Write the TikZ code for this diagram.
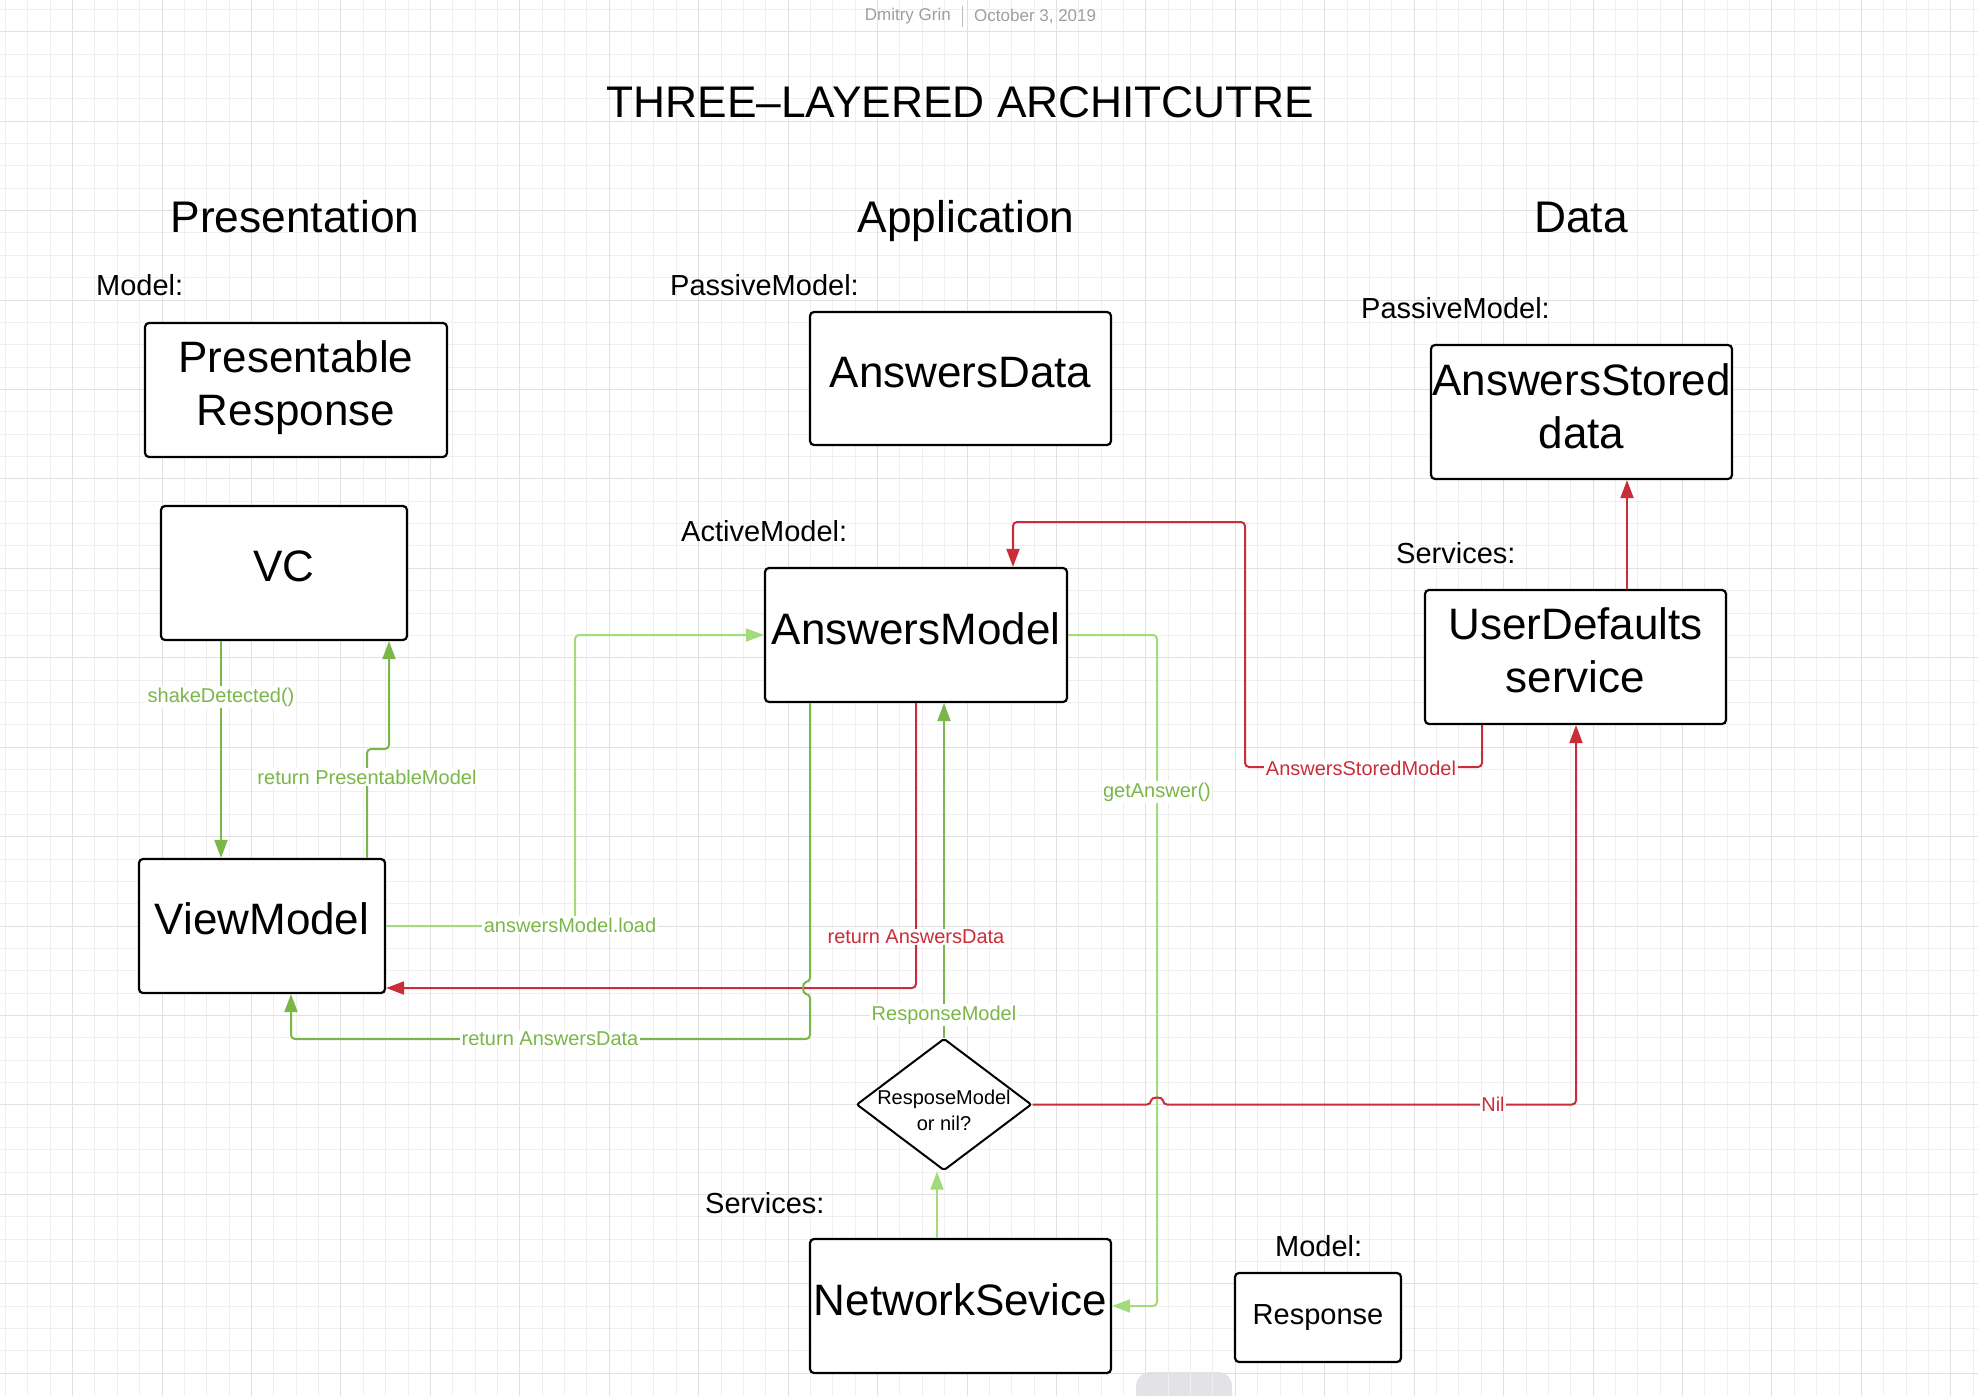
\documentclass[tikz,border=0pt]{standalone}
\usepackage{fontspec}
\setmainfont{Liberation Sans}
\usetikzlibrary{arrows.meta,shapes.geometric}
\definecolor{dgreen}{HTML}{7AB648}
\definecolor{lgreen}{HTML}{A3DB7B}
\definecolor{lred}{HTML}{C92D39}
\definecolor{gminorc}{HTML}{EFEFEF}
\definecolor{gmajorc}{HTML}{E0E0E0}
\definecolor{handlec}{HTML}{E3E3E5}
\definecolor{hdrc}{HTML}{9E9E9E}
\begin{document}
\begin{tikzpicture}[x=1pt,y=-1pt,
  box/.style={draw=black, line width=2.2pt, rounded corners=4pt, fill=white, inner sep=0pt},
  big/.style={font=\fontsize{44}{53}\selectfont, align=center, inner sep=0pt},
  lbl/.style={font=\fontsize{29}{34}\selectfont, anchor=west, inner sep=0pt},
  head/.style={font=\fontsize{44.3}{50}\selectfont, inner sep=0pt},
  hdr/.style={font=\fontsize{17}{20}\selectfont, text=hdrc, inner sep=0pt},
  conn/.style={line width=2pt, rounded corners=4pt},
  tipx/.style={-{Triangle[length=18pt,width=13pt]}},
  gd/.style={conn, draw=dgreen, tipx},
  gl/.style={conn, draw=lgreen, tipx},
  rd/.style={conn, draw=lred, tipx},
  clab/.style={font=\fontsize{20}{24}\selectfont, fill=white, inner sep=1.5pt},
  gminor/.style={draw=gminorc, line width=1pt},
  gmajor/.style={draw=gmajorc, line width=1pt}]
\fill[white] (0,0) rectangle (1978,1396);
\useasboundingbox (0,0) rectangle (1978,1396);
\begin{scope}
\clip (0,0) rectangle (1978,1396);
\fill[handlec, rounded corners=14pt] (1136,1372) rectangle (1232,1425);
\foreach \i in {0,...,88} \draw[gminor] ({5.52+\i*22.36},0) -- ({5.52+\i*22.36},1396);
\foreach \i in {0,...,61} \draw[gminor] (0,{9.34+\i*22.36}) -- (1978,{9.34+\i*22.36});
\foreach \i in {0,...,21} \draw[gmajor] ({72.6+\i*89.44},0) -- ({72.6+\i*89.44},1396);
\foreach \i in {0,...,15} \draw[gmajor] (0,{31.7+\i*89.44}) -- (1978,{31.7+\i*89.44});
\end{scope}

% header and title
\node[hdr, anchor=east] (h1) at (951,16) {Dmitry Grin};
\draw[hdrc!70, line width=1pt] (962.5,6) -- (962.5,27);
\node[hdr, anchor=west] (h2) at (974,16) {October 3, 2019};
\node[head] (title) at (960.5,102) {THREE–LAYERED ARCHITCUTRE};
\node[head] (hp) at (295,217) {Presentation};
\node[head] (ha) at (966,221) {Application};
\node[head] (hd) at (1581,217) {Data};

% labels
\node[lbl] (l1) at (96,285) {Model:};
\node[lbl] (l2) at (670,285) {PassiveModel:};
\node[lbl] (l3) at (1361,308) {PassiveModel:};
\node[lbl] (l4) at (681,531) {ActiveModel:};
\node[lbl] (l5) at (1396,553) {Services:};
\node[lbl] (l6) at (705,1203) {Services:};
\node[lbl] (l7) at (1275,1246) {Model:};

% boxes
\node[box, minimum width=302, minimum height=134] (pr) at (296,390) {};
\node[big] (tpr) at (296,388) {Presentable\\Response};
\node[box, minimum width=246, minimum height=134] (vc) at (284,573) {};
\node[big] (tvc) at (284,566) {VC};
\node[box, minimum width=246, minimum height=134] (vm) at (262,926) {};
\node[big] (tvm) at (262,919) {ViewModel};
\node[box, minimum width=301, minimum height=133] (ad) at (960.5,378.5) {};
\node[big] (tad) at (960.5,373) {AnswersData};
\node[box, minimum width=302, minimum height=134] (am) at (916,635) {};
\node[big] (tam) at (916,629) {AnswersModel};
\node[box, minimum width=301, minimum height=134] (asd) at (1581.5,412) {};
\node[big] (tasd) at (1581.5,406) {AnswersStored\\data};
\node[box, minimum width=301, minimum height=134] (uds) at (1575.5,657) {};
\node[big] (tuds) at (1575.5,650) {UserDefaults\\service};
\node[box, minimum width=301, minimum height=134] (ns) at (960.5,1306) {};
\node[big] (tns) at (960.5,1300) {NetworkSevice};
\node[box, minimum width=166, minimum height=89] (resp) at (1318,1317.5) {};
\node[font=\fontsize{29}{34}\selectfont, inner sep=0pt] (tresp) at (1318,1317.5) {Response};
\node[draw=black, diamond, line width=2pt, rounded corners=2pt, fill=white, inner sep=0pt,
      minimum width=175, minimum height=132] (dm) at (944,1104.5) {};
\node[font=\fontsize{20}{25.7}\selectfont, align=center, inner sep=0pt] (tdm) at (944,1110) {ResposeModel\\or nil?};

% helper coordinates
\coordinate (cShake) at (221,0);
\coordinate (cRet1) at (367,749);
\coordinate (cRet2) at (389,749);
\coordinate (cLoad) at (575,0);
\coordinate (cRedY) at (0,988);
\coordinate (cGX) at (810,0);
\coordinate (cGY) at (0,1039);
\coordinate (cGX2) at (291,0);
\coordinate (cNS) at (937,0);
\coordinate (cGA) at (1157,0);
\coordinate (cNilX) at (1576,0);
\coordinate (cASx1) at (1482,0);
\coordinate (cASy1) at (0,767);
\coordinate (cASx2) at (1245,0);
\coordinate (cASy2) at (0,522);
\coordinate (cASx3) at (1013,0);
\coordinate (cUp) at (1627,0);

% connectors
\draw[gd] (cShake |- vc.south) -- (cShake |- vm.north);
\draw[gd] (cRet1 |- vm.north) -- (cRet1) -- (cRet2) -- (cRet2 |- vc.south);
\draw[gl] (vm.east) -- (cLoad |- vm.east) -- (cLoad |- am.west) -- (am.west);
\draw[rd] (am.south) -- (am.south |- cRedY) -- (vm.east |- cRedY);
\draw[gd] (cGX |- am.south) -- (810,982) .. controls (802,982) and (802,994) .. (810,994)
   -- (cGX |- cGY) -- (cGX2 |- cGY) -- (cGX2 |- vm.south);
\draw[gl] (cNS |- ns.north) -- (cNS |- dm.south);
\draw[gd] (dm.north) -- (dm.north |- am.south);
\draw[gl] (am.east) -- (cGA |- am.east) -- (cGA |- ns.east) -- (ns.east);
\draw[rd] (dm.east) -- (1151,1104.5) .. controls (1151,1096.5) and (1163,1096.5) .. (1163,1104.5)
   -- (cNilX |- dm.east) -- (cNilX |- uds.south);
\draw[rd] (cASx1 |- uds.south) -- (cASx1 |- cASy1) -- (cASx2 |- cASy1) -- (cASx2 |- cASy2)
   -- (cASx3 |- cASy2) -- (cASx3 |- am.north);
\draw[rd] (cUp |- uds.north) -- (cUp |- asd.south);

% connector labels
\node[clab, text=dgreen] (lshake) at (221,697) {shakeDetected()};
\node[clab, text=dgreen] (lretp) at (367,777) {return PresentableModel};
\node[clab, text=dgreen] (lload) at (570,925) {answersModel.load};
\node[clab, text=lred] (lretr) at (916,937) {return AnswersData};
\node[clab, text=dgreen] (lretg) at (550,1039) {return AnswersData};
\node[clab, text=dgreen] (lresp) at (944,1015) {ResponseModel};
\node[clab, text=dgreen] (lget) at (1157,792) {getAnswer()};
\node[clab, text=lred] (lnil) at (1493,1104.5) {Nil};
\node[clab, text=lred] (las) at (1361,768) {AnswersStoredModel};
\end{tikzpicture}
\end{document}
